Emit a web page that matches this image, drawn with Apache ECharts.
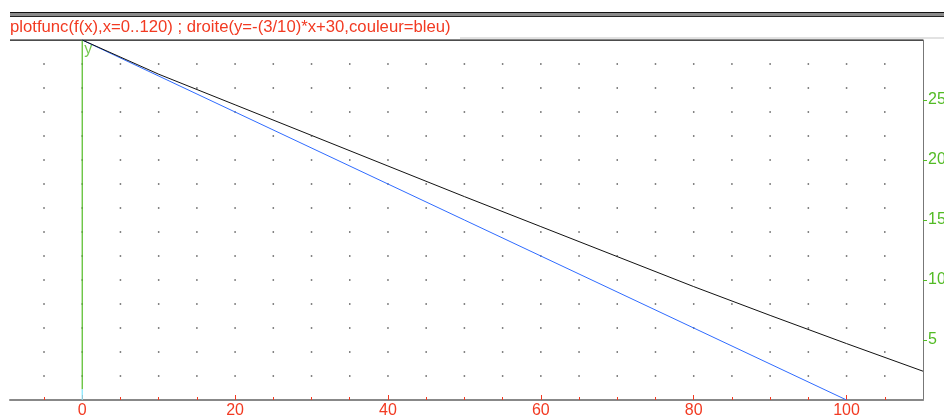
<!DOCTYPE html>
<html>
<head>
<meta charset="utf-8">
<script src="https://cdn.jsdelivr.net/npm/echarts@6/dist/echarts.min.js"></script>
<style>
html,body{margin:0;padding:0;background:#fff;}
#main{width:944px;height:416px;}
</style>
</head>
<body>
<div id="main"></div>
<script>
// plotfunc(f(x)) values
var fx = [0, 10, 20, 30, 40, 50, 60, 70, 80, 90, 100, 110];
var fy = [30, 27.15, 24.6, 22.05, 19.5, 16.95, 14.45, 11.95, 9.45, 7.05, 4.7, 2.4];
// droite y=-(3/10)*x+30 : end points
var dx = [0, 100];
var dy = [30, 0];
// axes
var xMajor = [0, 20, 40, 60, 80, 100];
var xMinor = [-5, 5, 10, 15, 25, 30, 35, 45, 50, 55, 65, 70, 75, 85, 90, 95, 105];
var yTicks = [5, 10, 15, 20, 25];
// dot grid
var dotX = [-5, 0, 5, 10, 15, 20, 25, 30, 35, 40, 45, 50, 55, 60, 65, 70, 75, 80, 85, 90, 95, 100, 105];
var dotY = [2, 4, 6, 8, 10, 12, 14, 16, 18, 20, 22, 24, 26, 28];

var red = '#f23a22';
var green = '#52bb24';

var dots = [];
dotX.forEach(function (x) { dotY.forEach(function (y) { dots.push([x, y]); }); });

var chart = echarts.init(document.getElementById('main'));
chart.setOption({
  animation: false,
  textStyle: { fontFamily: 'Liberation Sans, Arial, sans-serif' },
  grid: { left: 10, right: 21, top: 40, bottom: 16, outerBoundsMode: 'none', containLabel: false },
  xAxis: [{
    type: 'value', min: -9.45, max: 110,
    axisLine: { show: true, onZero: false, lineStyle: { color: '#888', width: 2 } },
    axisTick: { show: true, inside: true, length: 5, customValues: xMajor, lineStyle: { color: red } },
    axisLabel: { show: true, customValues: xMajor, color: red, fontSize: 16, margin: 3 },
    splitLine: { show: false }
  }, {
    type: 'value', min: -9.45, max: 110, position: 'bottom',
    axisLine: { show: false, onZero: false },
    axisTick: { show: true, inside: true, length: 3, customValues: xMinor, lineStyle: { color: red } },
    axisLabel: { show: false },
    splitLine: { show: false }
  }],
  yAxis: {
    type: 'value', min: 0, max: 30, position: 'right',
    axisLine: { show: true, onZero: false, lineStyle: { color: '#777', width: 1 } },
    axisTick: { show: true, length: 4, customValues: yTicks, lineStyle: { color: green } },
    axisLabel: { show: true, customValues: yTicks, color: green, fontSize: 16, margin: 5 },
    splitLine: { show: false }
  },
  graphic: [
    { type: 'rect', shape: { x: 10, y: 12, width: 934, height: 1 }, style: { fill: '#111' } },
    { type: 'rect', shape: { x: 10, y: 13, width: 934, height: 3 }, style: { fill: '#8a8a8a' } },
    { type: 'rect', shape: { x: 10, y: 16, width: 934, height: 1 }, style: { fill: '#222' } },
    { type: 'text', left: 10, top: 19, style: {
      text: 'plotfunc(f(x),x=0..120) ; droite(y=-(3/10)*x+30,couleur=bleu)',
      fill: red, font: '16.7px "Liberation Sans", Arial, sans-serif' } },
    { type: 'rect', shape: { x: 460, y: 37, width: 484, height: 2 }, style: { fill: '#e2e2e2' } },
    { type: 'rect', shape: { x: 10, y: 39.5, width: 913, height: 1.2 }, style: { fill: '#111' } }
  ],
  series: [{
    type: 'scatter', data: dots, symbol: 'rect', symbolSize: 1.5,
    itemStyle: { color: '#333' }, silent: true
  }, {
    type: 'line', data: [[0, 0.9], [0, 30]], symbol: 'none',
    lineStyle: { color: green, width: 1.2 }, silent: true
  }, {
    type: 'line', data: [[0, 0], [0, 0.9]], symbol: 'none',
    lineStyle: { color: '#7fe6ff', width: 1.2 }, silent: true
  }, {
    type: 'scatter', data: [[0, 30]], symbolSize: 0,
    label: { show: true, formatter: 'y', position: 'bottom', distance: 2, offset: [6, 0],
      color: green, fontSize: 16 }
  }, {
    type: 'line', data: dx.map(function (x, i) { return [x, dy[i]]; }), symbol: 'none',
    lineStyle: { color: '#2f6bff', width: 1 }
  }, {
    type: 'line', data: fx.map(function (x, i) { return [x, fy[i]]; }), symbol: 'none',
    lineStyle: { color: '#111', width: 1 }
  }]
});
</script>
</body>
</html>
